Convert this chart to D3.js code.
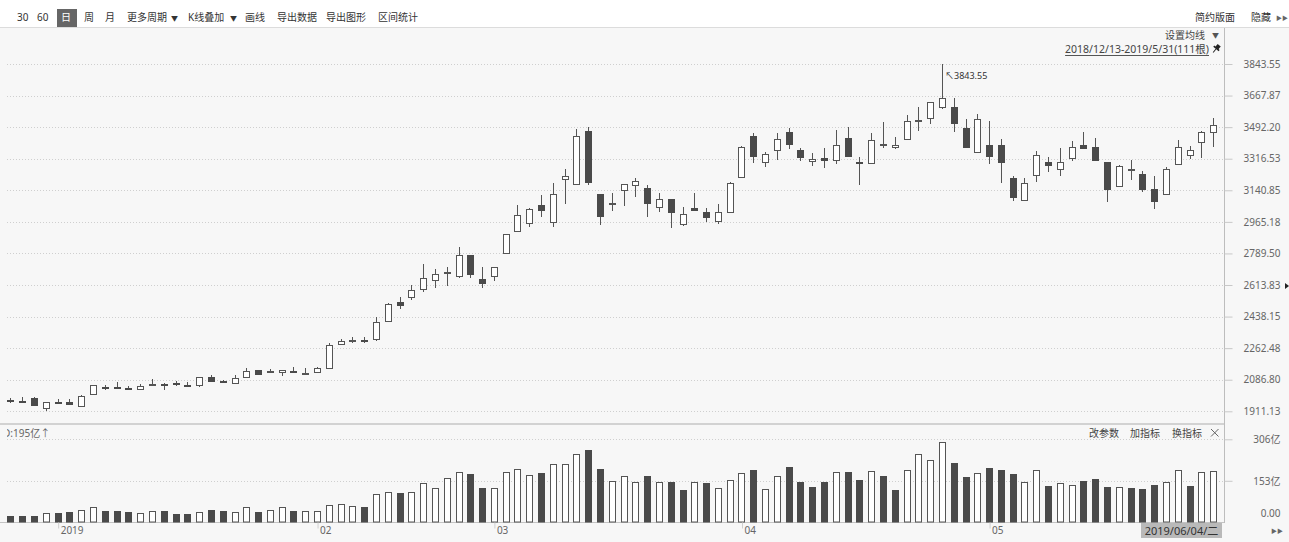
<!DOCTYPE html>
<html>
<head>
<meta charset="utf-8">
<script src="https://cdn.jsdelivr.net/npm/d3@7"></script>
<style>
body { margin: 0; background: #f7f7f7; overflow: hidden; }
svg { display: block; font-family: "Noto Sans", "Noto Sans CJK SC", sans-serif; }
</style>
</head>
<body>
<script>
const w = 1289;
const h = 542;

// trading days shown, month by month
const dec18 = [25, 26, 27, 28];
const jan19 = [2, 3, 4, 7, 8, 9, 10, 11, 14, 15, 16, 17, 18, 21, 22, 23, 24, 25, 28, 29, 30, 31];
const feb19 = [1, 11, 12, 13, 14, 15, 18, 19, 20, 21, 22, 25, 26, 27, 28];
const mar19 = [1, 4, 5, 6, 7, 8, 11, 12, 13, 14, 15, 18, 19, 20, 21, 22, 25, 26, 27, 28, 29];
const apr19 = [1, 2, 3, 4, 8, 9, 10, 11, 12, 15, 16, 17, 18, 19, 22, 23, 24, 25, 26, 29, 30];
const may19 = [6, 7, 8, 9, 10, 13, 14, 15, 16, 17, 20, 21, 22, 23, 24, 27, 28, 29, 30, 31];

const opens = [1976,1969,1987,1928,1965,1963,1941,2006,2044,2049,2040,2035,2058,2064,2066,2059,2057,2104,2081,2070,
  2104,2141,2130,2131,2138,2124,2130,2153,2286,2306,2309,2312,2414,2519,2545,2590,2642,2680,2664,2781,
  2646,2666,2794,2916,2961,3057,2964,3204,3176,3472,3119,3067,3143,3172,3155,3050,3091,2952,3044,3022,
  2968,3018,3213,3443,3300,3365,3463,3367,3302,3319,3309,3430,3296,3291,3399,3384,3425,3528,3545,3603,
  3606,3486,3352,3393,3393,3208,3087,3226,3300,3258,3319,3395,3380,3297,3166,3258,3231,3150,3120,3287,
  3337,3411,3467];
const highs = [1987,1990,1992,1963,1978,1980,2000,2059,2057,2076,2050,2061,2089,2066,2080,2072,2104,2113,2083,2115,
  2150,2143,2145,2142,2159,2150,2156,2290,2312,2326,2323,2438,2512,2549,2614,2731,2701,2716,2824,2783,
  2716,2714,2898,3059,3044,3115,3180,3258,3482,3491,3121,3124,3178,3208,3170,3124,3093,3050,3127,3044,
  3063,3189,3389,3458,3356,3458,3486,3378,3347,3374,3476,3495,3324,3461,3519,3436,3560,3606,3632,3843.55,
  3656,3538,3564,3526,3425,3220,3208,3360,3328,3374,3415,3463,3430,3299,3282,3309,3250,3220,3269,3421,
  3389,3471,3541];
const lows = [1956,1961,1941,1913,1952,1951,1939,2000,2030,2039,2030,2034,2050,2030,2052,2045,2046,2078,2071,2069,
  2102,2118,2122,2109,2122,2122,2129,2152,2284,2290,2293,2304,2410,2479,2530,2573,2596,2610,2654,2651,
  2595,2638,2790,2911,2938,2991,2938,3065,3172,3169,2948,3027,3053,3105,2991,3022,2933,2944,3026,2963,
  2952,3016,3211,3291,3272,3309,3372,3305,3278,3263,3285,3324,3170,3289,3375,3371,3423,3471,3511,3591,
  3467,3375,3350,3286,3180,3083,3083,3185,3244,3220,3306,3369,3304,3074,3160,3198,3130,3037,3115,3282,
  3315,3322,3380];
const closes = [1973,1963,1945,1961,1963,1953,1998,2057,2041,2047,2038,2050,2062,2062,2063,2056,2102,2080,2073,2098,
  2135,2120,2133,2140,2136,2127,2150,2278,2304,2309,2307,2406,2508,2503,2586,2651,2675,2684,2781,2673,
  2627,2712,2896,3002,3035,3030,3119,3222,3443,3185,2998,3069,3174,3193,3069,3091,3018,3007,3033,2991,
  3020,3180,3380,3332,3341,3425,3397,3328,3317,3311,3393,3332,3293,3421,3401,3393,3526,3532,3630,3656,
  3517,3383,3536,3333,3300,3104,3180,3337,3282,3300,3383,3375,3309,3148,3276,3261,3148,3083,3258,3380,
  3365,3465,3504];
// volume in 亿
const vols = [24,22,22,33,33,37,45,57,42,42,39,33,43,43,31,31,39,45,43,39,
  57,39,45,55,42,43,40,63,66,60,57,103,110,107,110,144,125,164,187,177,
  128,128,185,198,173,183,214,214,253,268,195,153,171,150,171,150,147,119,147,144,
  125,155,181,193,123,171,205,149,129,150,184,184,156,189,172,119,193,251,230,295,
  217,168,181,201,193,178,150,193,134,144,136,152,158,131,131,125,123,137,147,193,
  135,184,189];
// u = hollow volume bar, d = filled (ten bars per chunk)
const volDir = [
  "dddudduudd", "duuddduddu", "uduuduuuuu", "duuduuuuud", "duuuuduuud",
  "duuududdud", "uuuduudddd", "uddudduuuu", "dduddduudu", "uddduddduu", "duu"
].join("");

const pad2 = n => String(n).padStart(2, "0");
const dates = [].concat(
  dec18.map(d => "2018-12-" + pad2(d)),
  jan19.map(d => "2019-01-" + pad2(d)),
  feb19.map(d => "2019-02-" + pad2(d)),
  mar19.map(d => "2019-03-" + pad2(d)),
  apr19.map(d => "2019-04-" + pad2(d)),
  may19.map(d => "2019-05-" + pad2(d))
);

const monthTicks = ["2019-01-02", "2019-02-01", "2019-03-01", "2019-04-01", "2019-05-06"];
const monthLabels = ["2019", "02", "03", "04", "05"];
const priceTicks = [1911.13, 2086.80, 2262.48, 2438.15, 2613.83, 2789.50, 2965.18, 3140.85, 3316.53, 3492.20, 3667.87, 3843.55];
const volTicks = [0, 153, 306];
const volTickLabels = ["0.00", "153亿", "306亿"];

const toolbarLeft = ["30", "60", "日", "周", "月", "更多周期", "▼", "K线叠加", "▼", "画线", "导出数据", "导出图形", "区间统计"];
const toolbarLeftX = [17, 37, 61, 84, 105, 127, 171, 188, 230, 245, 277, 326, 378];

const plotL = 7, plotR = 1224;
const dark = "#4a4a4a", edge = "#555";

const svg = d3.select("body").append("svg").attr("width", w).attr("height", h);

svg.append("rect").attr("width", w).attr("height", h).attr("fill", "#f7f7f7");
svg.append("rect").attr("width", w).attr("height", 27).attr("fill", "#ffffff");
svg.append("line").attr("x1", 0).attr("x2", w).attr("y1", 27.5).attr("y2", 27.5).attr("stroke", "#dcdcdc");

svg.append("defs").append("clipPath").attr("id", "plot")
  .append("rect").attr("x", plotL).attr("y", 28).attr("width", plotR - plotL).attr("height", 495);

const xScale = d3.scaleBand().domain(dates).range([4.6, 1219]).paddingInner(0.4).paddingOuter(0.2);
const yScale = d3.scaleLinear().domain([1911.13, 3843.55]).range([411.3, 64]);
const vScale = d3.scaleLinear().domain([0, 306]).range([522.3, 439.3]);

const cx = i => Math.round(xScale(dates[i]) + xScale.bandwidth() / 2) + 0.5;

// grid lines
svg.append("g").selectAll("line").data(priceTicks).join("line")
  .attr("x1", plotL).attr("x2", plotR)
  .attr("y1", d => Math.round(yScale(d)) + 0.5).attr("y2", d => Math.round(yScale(d)) + 0.5)
  .attr("stroke", "#cfcfcf").attr("stroke-dasharray", "1,2");
svg.append("g").selectAll("line").data(volTicks.slice(1)).join("line")
  .attr("x1", plotL).attr("x2", plotR)
  .attr("y1", d => Math.round(vScale(d)) + 0.5).attr("y2", d => Math.round(vScale(d)) + 0.5)
  .attr("stroke", "#cfcfcf").attr("stroke-dasharray", "1,2");

// frame lines
svg.append("line").attr("x1", 0).attr("x2", plotR).attr("y1", 424).attr("y2", 424).attr("stroke", "#d2d2d2").attr("stroke-width", 2);
svg.append("line").attr("x1", 0).attr("x2", plotR).attr("y1", 522.5).attr("y2", 522.5).attr("stroke", "#c4c4c4");
svg.append("line").attr("x1", plotR + 0.5).attr("x2", plotR + 0.5).attr("y1", 28).attr("y2", 523).attr("stroke", "#bdbdbd");

const idx = d3.range(dates.length);
const plot = svg.append("g").attr("clip-path", "url(#plot)");

// candles
plot.append("g").selectAll("line").data(idx).join("line")
  .attr("x1", cx).attr("x2", cx)
  .attr("y1", i => Math.round(yScale(highs[i]))).attr("y2", i => Math.round(yScale(lows[i])))
  .attr("stroke", edge);

plot.append("g").selectAll("rect").data(idx).join("rect")
  .attr("x", i => cx(i) - 3)
  .attr("width", 6)
  .attr("y", i => Math.round(yScale(Math.max(opens[i], closes[i]))) + 0.5)
  .attr("height", i => Math.max(1, Math.round(yScale(Math.min(opens[i], closes[i]))) - Math.round(yScale(Math.max(opens[i], closes[i])))))
  .attr("fill", i => closes[i] > opens[i] ? "#ffffff" : dark)
  .attr("stroke", i => closes[i] > opens[i] ? edge : dark);

// volume bars
plot.append("g").selectAll("rect").data(idx).join("rect")
  .attr("x", i => cx(i) - 3)
  .attr("width", 6)
  .attr("y", i => Math.round(vScale(vols[i])) + 0.5)
  .attr("height", i => 522 - Math.round(vScale(vols[i])) - 0.5)
  .attr("fill", i => volDir[i] === "u" ? "#ffffff" : dark)
  .attr("stroke", i => volDir[i] === "u" ? edge : dark);

// right axes
const priceAxis = svg.append("g").attr("transform", `translate(${plotR + 0.5},0)`)
  .call(d3.axisRight(yScale).tickValues(priceTicks).tickSize(8).tickFormat(d => d.toFixed(2)));
const volAxis = svg.append("g").attr("transform", `translate(${plotR + 0.5},0)`)
  .call(d3.axisRight(vScale).tickValues(volTicks).tickSize(8).tickFormat((d, i) => volTickLabels[i]));
[priceAxis, volAxis].forEach(a => {
  a.select(".domain").remove();
  a.selectAll(".tick line").attr("stroke", "#c8c8c8");
  a.selectAll(".tick text").attr("x", 56).attr("text-anchor", "end")
    .attr("fill", "#666").attr("font-size", 10).attr("font-family", "'Noto Sans','Noto Sans CJK SC',sans-serif");
});
volAxis.selectAll(".tick").filter(d => d === 0).select("line").remove();
volAxis.selectAll(".tick").filter(d => d === 0).select("text").attr("dy", "-0.6em");

// bottom axis
const xAxis = svg.append("g").attr("transform", "translate(1,522.5)")
  .call(d3.axisBottom(xScale).tickValues(monthTicks).tickSize(6).tickFormat((d, i) => monthLabels[i]));
xAxis.select(".domain").remove();
xAxis.selectAll(".tick line").attr("stroke", "#cfcfcf");
xAxis.selectAll(".tick text").attr("text-anchor", "start").attr("x", 2).attr("y", 4)
  .attr("fill", "#666").attr("font-size", 10).attr("font-family", "'Noto Sans','Noto Sans CJK SC',sans-serif");

// toolbar
svg.append("rect").attr("x", 57).attr("y", 9).attr("width", 20).attr("height", 18).attr("fill", "#666");
svg.append("g").selectAll("text").data(toolbarLeft).join("text")
  .attr("x", (d, i) => toolbarLeftX[i]).attr("y", 21)
  .attr("font-size", d => d === "▼" ? 7 : 10)
  .attr("fill", d => d === "日" ? "#fff" : "#333")
  .text(d => d);
svg.append("text").attr("x", 1195).attr("y", 21).attr("font-size", 10).attr("fill", "#333").text("简约版面");
svg.append("text").attr("x", 1251).attr("y", 21).attr("font-size", 10).attr("fill", "#333").text("隐藏");
svg.append("text").attr("x", 1276).attr("y", 20).attr("font-size", 6).attr("fill", "#666").text("▶▶");

// header of the price pane
svg.append("text").attr("x", 1165).attr("y", 39).attr("font-size", 10).attr("fill", "#444").text("设置均线");
svg.append("text").attr("x", 1212).attr("y", 38).attr("font-size", 7).attr("fill", "#555").text("▼");
const range = svg.append("text").attr("x", 1209).attr("y", 53).attr("text-anchor", "end")
  .attr("font-size", 10.5).attr("fill", "#444").text("2018/12/13-2019/5/31(111根)");
const rl = range.node().getComputedTextLength();
svg.append("line").attr("x1", 1209 - rl).attr("x2", 1209).attr("y1", 55.5).attr("y2", 55.5).attr("stroke", "#555");
// pin icon
const pin = svg.append("g").attr("transform", "translate(1216,49) rotate(40)");
pin.append("rect").attr("x", -2).attr("y", -5).attr("width", 4).attr("height", 4).attr("fill", "#222");
pin.append("rect").attr("x", -3.5).attr("y", -1.5).attr("width", 7).attr("height", 1.6).attr("fill", "#222");
pin.append("line").attr("x1", 0).attr("x2", 0).attr("y1", 0).attr("y2", 4.5).attr("stroke", "#222");

// high marker
svg.append("text").attr("x", 945).attr("y", 79).attr("font-size", 9).attr("fill", "#333").text("↖3843.55");

// volume pane header
const volLabel = svg.append("g").attr("clip-path", "url(#plot)");
volLabel.append("text").attr("x", 3).attr("y", 437).attr("font-size", 10).attr("fill", "#666").text("D:195亿↑");
svg.append("text").attr("x", 1089).attr("y", 437).attr("font-size", 10).attr("fill", "#444").text("改参数");
svg.append("text").attr("x", 1130).attr("y", 437).attr("font-size", 10).attr("fill", "#444").text("加指标");
svg.append("text").attr("x", 1172).attr("y", 437).attr("font-size", 10).attr("fill", "#444").text("换指标");
svg.append("path").attr("d", "M1211,429 L1218.5,436.5 M1218.5,429 L1211,436.5").attr("stroke", "#666").attr("stroke-width", 1);

// current date box
svg.append("rect").attr("x", 1141).attr("y", 523).attr("width", 81).attr("height", 15).attr("fill", "#b9b9b9");
svg.append("text").attr("x", 1181.5).attr("y", 535).attr("text-anchor", "middle")
  .attr("font-size", 11).attr("fill", "#333").text("2019/06/04/二");
svg.append("text").attr("x", 1271).attr("y", 533).attr("font-size", 6).attr("fill", "#666").text("▶▶");

// price pointer at the right edge
svg.append("path").attr("d", "M1285,283 L1289,286 L1285,289 Z").attr("fill", "#222");
</script>
</body>
</html>
